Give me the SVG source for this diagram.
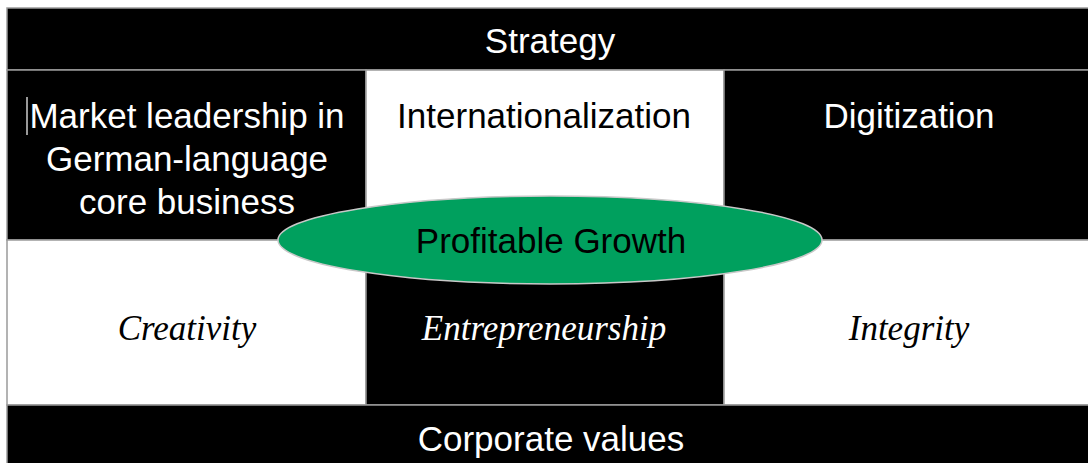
<svg xmlns="http://www.w3.org/2000/svg" width="1088" height="463" viewBox="0 0 1088 463">
<style>
.blk{fill:#000;stroke:#9a9a9a;stroke-width:1.5}
.wht{fill:#fff;stroke:#9a9a9a;stroke-width:1.5}
.sans{font-family:"Liberation Sans",Arial,sans-serif;font-size:35px;text-anchor:middle}
.ser{font-family:"Liberation Serif","Times New Roman",serif;font-style:italic;font-size:35px;text-anchor:middle}
.w{fill:#fff}
.b{fill:#000}
</style>
<rect x="0" y="0" width="1088" height="463" fill="#fff"/>
<g id="strategy">
<rect class="blk" x="7" y="8" width="1090" height="62"/>
<text class="sans w" x="550" y="53">Strategy</text>
</g>
<g id="market">
<rect class="blk" x="7" y="70" width="359" height="170"/>
<line x1="27" y1="97" x2="27" y2="135" stroke="#ccc" stroke-width="1.5"/>
<text class="sans w" x="187" y="128">Market leadership in</text>
<text class="sans w" x="187" y="171">German-language</text>
<text class="sans w" x="187" y="214">core business</text>
</g>
<g id="internationalization">
<rect class="wht" x="366" y="70" width="358" height="170"/>
<text class="sans b" x="544" y="128">Internationalization</text>
</g>
<g id="digitization">
<rect class="blk" x="724" y="70" width="370" height="170"/>
<text class="sans w" x="909" y="128">Digitization</text>
</g>
<g id="creativity">
<rect class="wht" x="7" y="240" width="359" height="165"/>
<text class="ser b" x="187" y="340">Creativity</text>
</g>
<g id="entrepreneurship">
<rect class="blk" x="366" y="240" width="358" height="165"/>
<text class="ser w" x="544" y="340">Entrepreneurship</text>
</g>
<g id="integrity">
<rect class="wht" x="724" y="240" width="370" height="165"/>
<text class="ser b" x="909" y="340">Integrity</text>
</g>
<g id="corporate-values">
<rect class="blk" x="7" y="405" width="1090" height="70"/>
<text class="sans w" x="551" y="451">Corporate values</text>
</g>
<g id="profitable-growth">
<ellipse cx="550" cy="240" rx="272" ry="44" fill="#00A05E" stroke="#c8c8c8" stroke-width="1.5"/>
<text class="sans b" x="551" y="253">Profitable Growth</text>
</g>
<g id="connectors"></g>
</svg>
